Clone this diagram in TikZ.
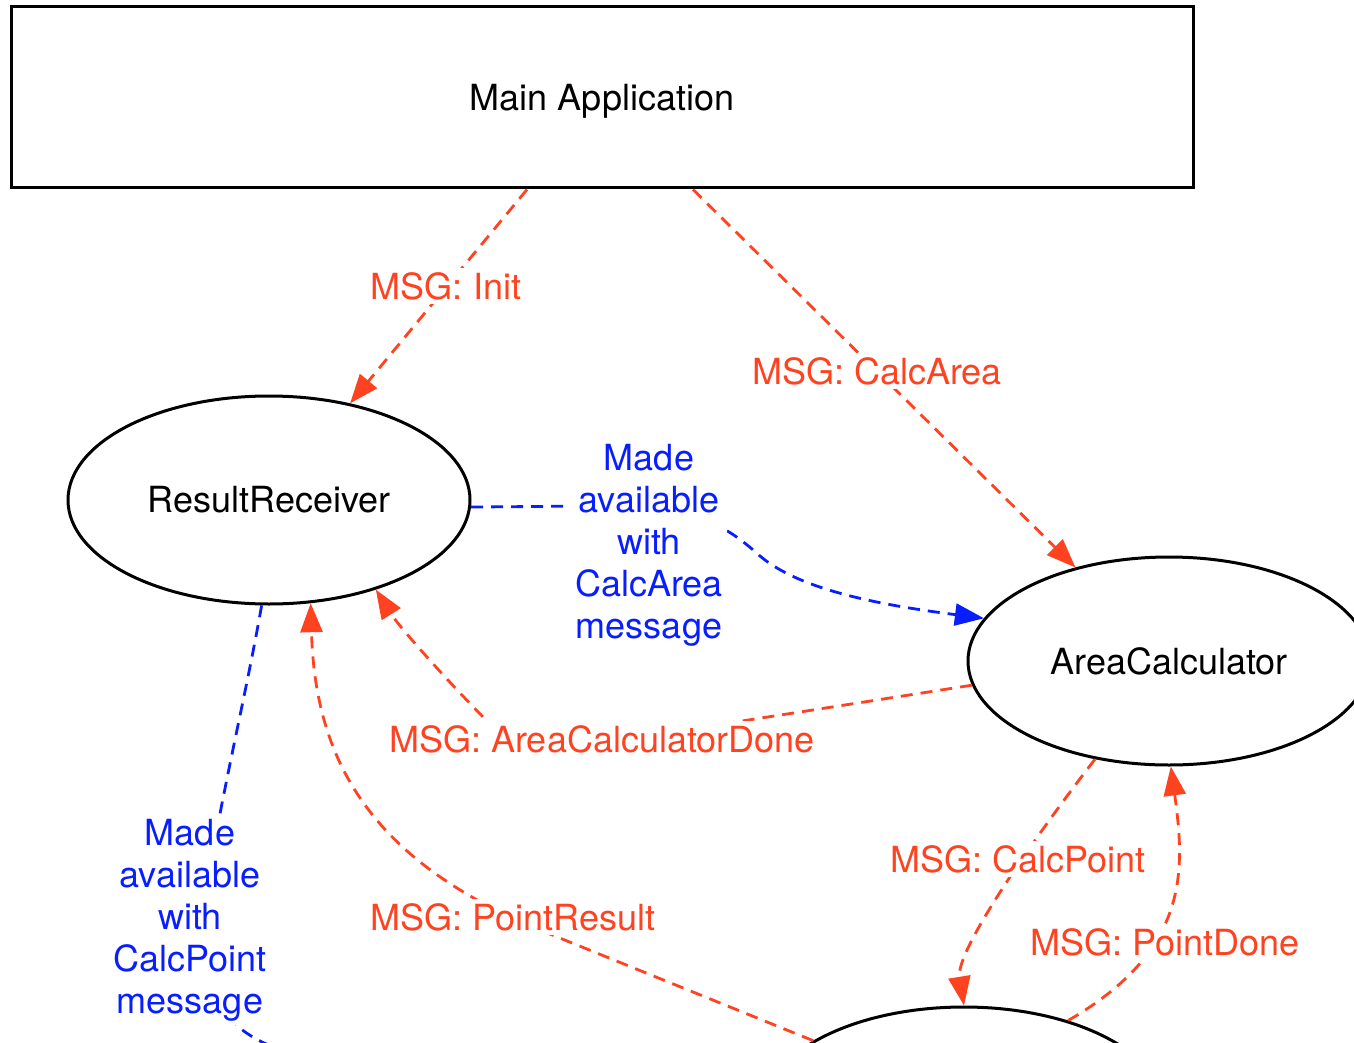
\documentclass[tikz,border=0pt]{standalone}
\usepackage{fontspec}
\setmainfont{TeX Gyre Heros}
\usetikzlibrary{shapes.geometric,arrows.meta}
\definecolor{msgred}{RGB}{255,66,32}
\definecolor{availblue}{RGB}{8,30,255}
\begin{document}
\begin{tikzpicture}[x=1pt,y=-1pt,
  every node/.style={font=\fontsize{36}{42}\selectfont},
  proc/.style={ellipse,draw,line width=3pt,minimum width=402pt,minimum height=208pt,inner sep=0pt},
  tip/.style={-{Triangle[length=29pt,width=22pt]}},
  msg/.style={draw=msgred,line width=2.8pt,dash pattern=on 12pt off 8pt,tip},
  avail/.style={draw=availblue,line width=2.8pt,dash pattern=on 12pt off 8pt,tip},
  msglabel/.style={text=msgred,fill=white,inner sep=4pt},
  availlabel/.style={text=availblue,fill=white,align=center,inner sep=4pt},
]
\useasboundingbox (0,0) rectangle (1354,1043);

% components
\node[draw,line width=3pt,minimum width=1182pt,minimum height=181pt,inner sep=0pt,text depth=0pt]
  (main) at (602,97.5) {Main Application};
\node[proc] (rr) at (269,500) {ResultReceiver};
\node[proc] (ac) at (1169,661) {AreaCalculator};
\node[proc] (bt) at (964,1111) {};

% messages
\draw[msg] ([xshift=-75pt]main.south) -- (rr.50);
\draw[msg] ([xshift=91pt]main.south) -- (ac.135);
\draw[msg] (ac.-173) -- (620,740) .. controls (540,752) and (500,735) .. (483,717)
  .. controls (445,678) and (400,628) .. (rr.-40);
\draw[msg] (ac.-127) .. controls (1040,830) and (955,950) .. (bt.north);
\draw[msg] (bt.41) .. controls (1190,950) and (1185,870) .. (ac.-89);
\draw[msg] (bt.155) -- (540,930) .. controls (370,860) and (315,760) .. (rr.-68);

% references passed along with messages
\draw[avail] (rr.-2) -- (590,506) .. controls (690,506) and (720,520) .. (760,556)
  .. controls (800,590) and (880,605) .. (ac.167);
\draw[avail] (rr.-94) .. controls (245,700) and (220,800) .. (205,900)
  .. controls (200,960) and (215,1005) .. (240,1028)
  .. controls (300,1080) and (600,1125) .. (bt.west);

% labels
\node[msglabel] (lInit) at (446,286) {MSG: Init};
\node[msglabel] (lCalcArea) at (877,371) {MSG: CalcArea};
\node[msglabel] (lDone) at (602,739) {MSG: AreaCalculatorDone};
\node[msglabel] (lCalcPoint) at (1018,859) {MSG: CalcPoint};
\node[msglabel] (lPointDone) at (1165,942) {MSG: PointDone};
\node[msglabel] (lPointResult) at (513,917) {MSG: PointResult};
\node[availlabel] (lAvailArea) at (649,545) {Made\\available\\with\\CalcArea\\message};
\node[availlabel] (lAvailPoint) at (190,920) {Made\\available\\with\\CalcPoint\\message};
\end{tikzpicture}
\end{document}
